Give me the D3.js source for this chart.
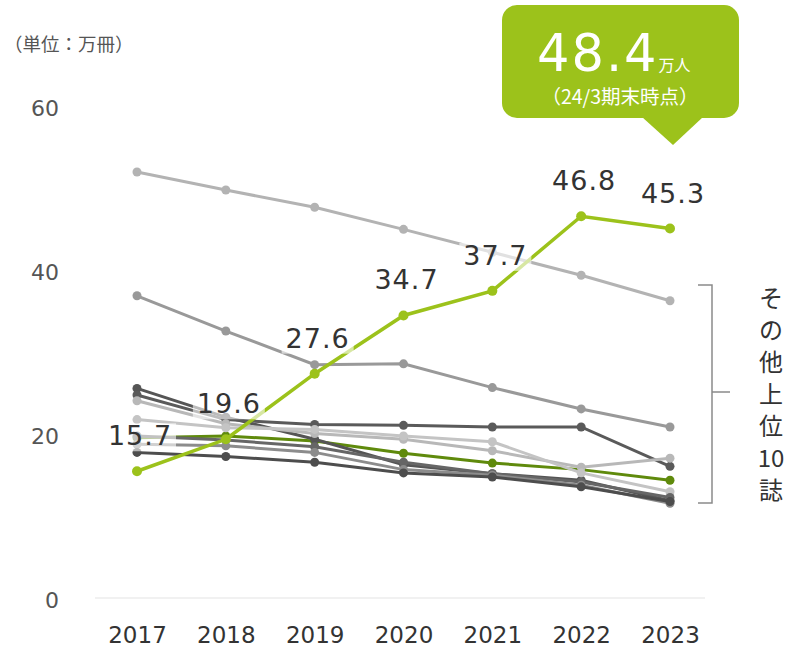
<!DOCTYPE html>
<html>
<head>
<meta charset="utf-8">
<script src="https://cdn.jsdelivr.net/npm/d3@7"></script>
<style>
  body { margin: 0; background: #fff; }
  text { font-family: "DejaVu Sans", "Noto Sans CJK JP", sans-serif; }
  .jp { font-family: "Noto Sans CJK JP", sans-serif; }
</style>
</head>
<body>
<div id="chart"></div>
<script>
// data
const years = [2017, 2018, 2019, 2020, 2021, 2022, 2023]
const yTicks = [0, 20, 40, 60]
const mainValues = [15.7, 19.6, 27.6, 34.7, 37.7, 46.8, 45.3]
const mainLabels = ['15.7', '19.6', '27.6', '34.7', '37.7', '46.8', '45.3']
const otherNames = ['top1', 'top2', 'olive', 'darkA', 'darkB', 'lightC', 'lightD', 'darkE', 'grayF', 'darkG']
const otherValues = [
    [52.2, 50.0, 47.9, 45.2, 42.4, 39.6, 36.5],
    [37.1, 32.8, 28.7, 28.8, 25.9, 23.3, 21.1],
    [19.8, 20.0, 19.4, 17.9, 16.7, 15.9, 14.6],
    [25.8, 22.3, 19.6, 16.5, 15.4, 14.6, 12.1],
    [25.0, 22.0, 21.4, 21.3, 21.1, 21.1, 16.3],
    [24.3, 21.5, 20.3, 19.6, 18.2, 16.2, 17.3],
    [22.0, 21.0, 20.8, 20.0, 19.3, 15.5, 13.2],
    [20.0, 19.5, 18.7, 16.8, 15.4, 14.4, 12.5],
    [19.0, 18.8, 18.0, 15.9, 15.2, 14.0, 11.8],
    [18.0, 17.5, 16.8, 15.5, 15.0, 13.8, 12.0]
]
const otherColors = ['#b3b3b3', '#999999', '#5f8a0c', '#555555', '#5a5a5a', '#b8b8b8', '#c4c4c4', '#666666', '#8c8c8c', '#4d4d4d']
const bracketText = ['そ', 'の', '他', '上', '位', '10', '誌']

const width = 793
const height = 652
const green = '#9cc21b'

const svg = d3.select('#chart').append('svg')
    .attr('width', width)
    .attr('height', height)

const xScale = d3.scalePoint()
    .domain(years)
    .range([137, 670])
const yScale = d3.scaleLinear()
    .domain([0, 60])
    .range([600, 108])

// unit label
svg.append('text')
    .attr('class', 'jp')
    .attr('x', 4)
    .attr('y', 51)
    .attr('font-size', 18.5)
    .attr('fill', '#555')
    .text('（単位：万冊）')

// baseline
svg.append('line')
    .attr('x1', 95).attr('x2', 705)
    .attr('y1', yScale(0) - 2).attr('y2', yScale(0) - 2)
    .attr('stroke', '#e3e3e3')
    .attr('stroke-width', 1)

// y axis
const yAxisG = svg.append('g')
    .attr('transform', 'translate(59,0)')
    .call(d3.axisLeft(yScale).tickValues(yTicks).tickSize(0).tickPadding(0))
yAxisG.select('.domain').remove()
yAxisG.selectAll('text')
    .attr('font-size', 22)
    .attr('fill', '#555')
    .attr('font-family', '"DejaVu Sans", sans-serif')

// x axis
const xAxisG = svg.append('g')
    .attr('transform', 'translate(0,627)')
    .call(d3.axisBottom(xScale).tickSize(0).tickPadding(0).tickFormat(d3.format('d')))
xAxisG.select('.domain').remove()
xAxisG.selectAll('text')
    .attr('font-size', 23)
    .attr('fill', '#333')
    .attr('font-family', '"DejaVu Sans", sans-serif')

const line = d3.line()
    .x((d, i) => xScale(years[i]))
    .y(d => yScale(d))

// other magazines
const linesG = svg.append('g').attr('class', 'others')
otherValues.forEach((vals, k) => {
    const g = linesG.append('g').attr('class', otherNames[k])
    g.append('path')
        .datum(vals)
        .attr('d', line)
        .attr('fill', 'none')
        .attr('stroke', otherColors[k])
        .attr('stroke-width', 3)
    g.selectAll('circle')
        .data(vals)
        .join('circle')
        .attr('cx', (d, i) => xScale(years[i]))
        .attr('cy', d => yScale(d))
        .attr('r', 4.5)
        .attr('fill', otherColors[k])
})

// main series
const mainG = svg.append('g').attr('class', 'main')
mainG.append('path')
    .datum(mainValues)
    .attr('d', line)
    .attr('fill', 'none')
    .attr('stroke', green)
    .attr('stroke-width', 3.5)
mainG.selectAll('circle')
    .data(mainValues)
    .join('circle')
    .attr('cx', (d, i) => xScale(years[i]))
    .attr('cy', d => yScale(d))
    .attr('r', 5)
    .attr('fill', green)

// value labels with a faded white box behind them
const labG = svg.append('g').attr('class', 'labels')
const labels = labG.selectAll('g')
    .data(mainValues)
    .join('g')
    .attr('transform', (d, i) => `translate(${xScale(years[i]) + 3},${yScale(d) - 26})`)
labels.append('rect')
    .attr('x', -36).attr('y', -22)
    .attr('width', 72).attr('height', 28)
    .attr('fill', '#fff')
    .attr('opacity', 0.6)
labels.append('text')
    .attr('text-anchor', 'middle')
    .attr('font-size', 27)
    .attr('letter-spacing', 1)
    .attr('fill', '#333')
    .text((d, i) => mainLabels[i])

// callout
const callG = svg.append('g').attr('class', 'callout')
callG.append('rect')
    .attr('x', 502).attr('y', 5)
    .attr('width', 237).attr('height', 113)
    .attr('rx', 15)
    .attr('fill', green)
callG.append('path')
    .attr('d', 'M642,117 L703,117 L673,145 Z')
    .attr('fill', green)
const bigText = callG.append('text')
    .attr('x', 537)
    .attr('y', 71)
    .attr('fill', '#fff')
bigText.append('tspan')
    .attr('font-size', 51)
    .attr('letter-spacing', 2)
    .text('48.4')
bigText.append('tspan')
    .attr('class', 'jp')
    .attr('font-size', 16)
    .attr('dx', 0)
    .text('万人')
callG.append('text')
    .attr('class', 'jp')
    .attr('x', 620)
    .attr('y', 104)
    .attr('text-anchor', 'middle')
    .attr('font-size', 19.5)
    .attr('fill', '#fff')
    .text('（24/3期末時点）')

// bracket
svg.append('path')
    .attr('d', 'M698,285 L712,285 L712,392 L730,392 M712,392 L712,503 L698,503')
    .attr('fill', 'none')
    .attr('stroke', '#8a8a8a')
    .attr('stroke-width', 1.5)
svg.append('g').attr('class', 'bracket-text')
    .selectAll('text')
    .data(bracketText)
    .join('text')
    .attr('class', 'jp')
    .attr('x', 771)
    .attr('y', (d, i) => 307 + i * 32)
    .attr('text-anchor', 'middle')
    .attr('font-size', 24)
    .attr('fill', '#333')
    .text(d => d)
</script>
</body>
</html>
